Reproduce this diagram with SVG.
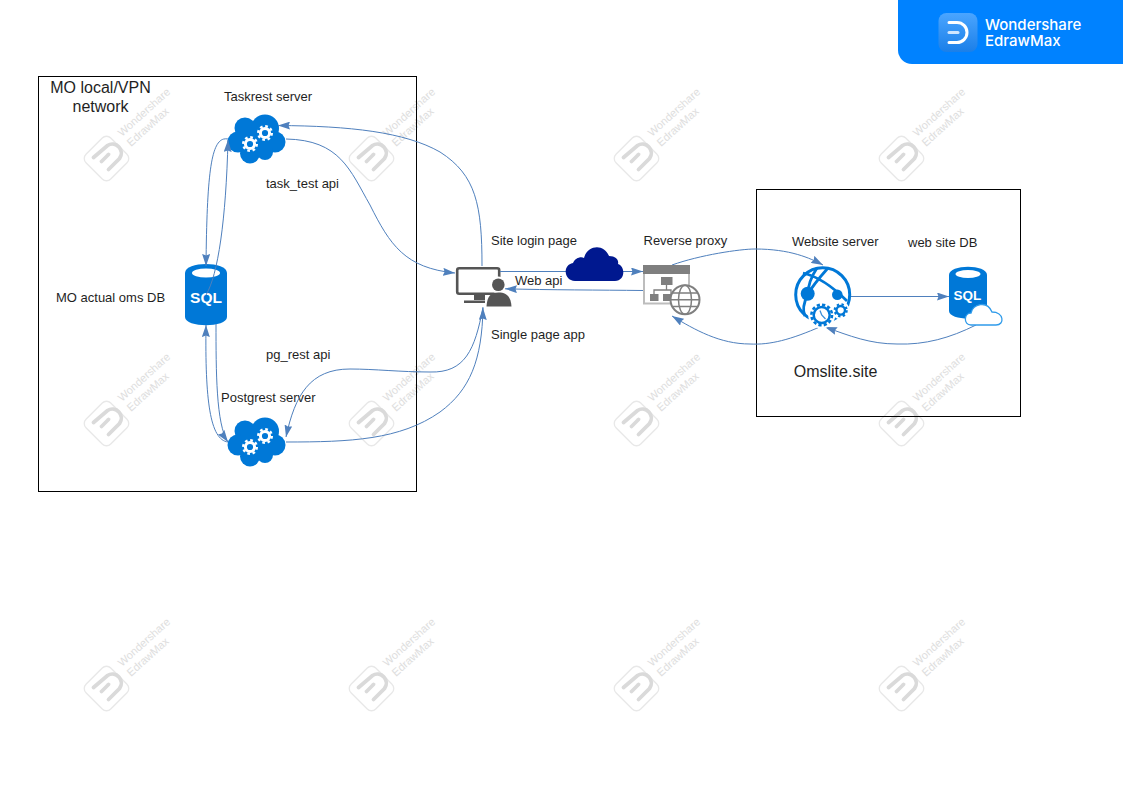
<svg xmlns="http://www.w3.org/2000/svg" width="1123" height="794" viewBox="0 0 1123 794">
<style>
text{font-family:"Liberation Sans",Arial,sans-serif;fill:#1f1f1f}
.l{font-size:13px}
.t{font-size:16px}
.box{fill:none;stroke:#000;stroke-width:1}
.c{fill:none;stroke:#4f80bd;stroke-width:1;marker-end:url(#a)}
.wm{font-size:11px;fill:#dedede}
.sql{font-weight:bold;fill:#fff}
.brand{font-family:Inter,"Liberation Sans",sans-serif;font-size:15px;font-weight:500;fill:#fff}
</style>
<defs>
<marker id="a" viewBox="0 0 12 8" refX="12" refY="4" markerWidth="12" markerHeight="8" markerUnits="userSpaceOnUse" orient="auto"><path d="M0,0L12,4L0,8L1.500,4Z" fill="#4f80bd"/></marker>
<linearGradient id="lg" x1="0" y1="0" x2="0" y2="1"><stop offset="0" stop-color="#4aa5ff"/><stop offset="1" stop-color="#1b7fe8"/></linearGradient>
<g id="gw"><circle r="4.600" fill="none" stroke="#fff" stroke-width="3"/><circle r="6.800" fill="none" stroke="#fff" stroke-width="2.400" stroke-dasharray="2.670 2.670"/></g>
<g id="gb"><circle r="4.300" fill="none" stroke="#0078d7" stroke-width="2.400"/><circle r="6" fill="none" stroke="#0078d7" stroke-width="2.200" stroke-dasharray="2.360 2.360"/></g>
<g id="cg">
<g fill="#0078d7"><circle cx="18" cy="14" r="10.500"/><circle cx="38" cy="14.500" r="14"/><circle cx="48" cy="28" r="10.500"/><circle cx="11" cy="28" r="10.500"/><circle cx="23" cy="39.500" r="10"/><circle cx="38" cy="38" r="8"/><rect x="15" y="14" width="30" height="26"/></g>
<use href="#gw" x="23" y="30"/><use href="#gw" x="38" y="19"/>
</g>
<g id="wi">
<rect x="-17.500" y="-17.500" width="35" height="35" rx="6" transform="rotate(-45)" fill="#fff" stroke="#e8e8e8" stroke-width="1.300"/>
<path d="M-13,-1L1,-13A9,9 0 0 1 13,0L2,11" fill="none" stroke="#dadada" stroke-width="3.800" stroke-linecap="round"/>
<path d="M-5,3L2,-4" fill="none" stroke="#dadada" stroke-width="3.800" stroke-linecap="round"/>
</g>
</defs>
<rect width="1123" height="794" fill="#fff"/>

<g id="watermarks">
<g transform="translate(0,0)"><use href="#wi" x="106.500" y="158.500"/><text class="wm" transform="translate(122,137) rotate(-42)">Wondershare</text><text class="wm" transform="translate(131,147) rotate(-42)">EdrawMax</text></g>
<g transform="translate(265,0)"><use href="#wi" x="106.500" y="158.500"/><text class="wm" transform="translate(122,137) rotate(-42)">Wondershare</text><text class="wm" transform="translate(131,147) rotate(-42)">EdrawMax</text></g>
<g transform="translate(530,0)"><use href="#wi" x="106.500" y="158.500"/><text class="wm" transform="translate(122,137) rotate(-42)">Wondershare</text><text class="wm" transform="translate(131,147) rotate(-42)">EdrawMax</text></g>
<g transform="translate(795,0)"><use href="#wi" x="106.500" y="158.500"/><text class="wm" transform="translate(122,137) rotate(-42)">Wondershare</text><text class="wm" transform="translate(131,147) rotate(-42)">EdrawMax</text></g>
<g transform="translate(0,265)"><use href="#wi" x="106.500" y="158.500"/><text class="wm" transform="translate(122,137) rotate(-42)">Wondershare</text><text class="wm" transform="translate(131,147) rotate(-42)">EdrawMax</text></g>
<g transform="translate(265,265)"><use href="#wi" x="106.500" y="158.500"/><text class="wm" transform="translate(122,137) rotate(-42)">Wondershare</text><text class="wm" transform="translate(131,147) rotate(-42)">EdrawMax</text></g>
<g transform="translate(530,265)"><use href="#wi" x="106.500" y="158.500"/><text class="wm" transform="translate(122,137) rotate(-42)">Wondershare</text><text class="wm" transform="translate(131,147) rotate(-42)">EdrawMax</text></g>
<g transform="translate(795,265)"><use href="#wi" x="106.500" y="158.500"/><text class="wm" transform="translate(122,137) rotate(-42)">Wondershare</text><text class="wm" transform="translate(131,147) rotate(-42)">EdrawMax</text></g>
<g transform="translate(0,530)"><use href="#wi" x="106.500" y="158.500"/><text class="wm" transform="translate(122,137) rotate(-42)">Wondershare</text><text class="wm" transform="translate(131,147) rotate(-42)">EdrawMax</text></g>
<g transform="translate(265,530)"><use href="#wi" x="106.500" y="158.500"/><text class="wm" transform="translate(122,137) rotate(-42)">Wondershare</text><text class="wm" transform="translate(131,147) rotate(-42)">EdrawMax</text></g>
<g transform="translate(530,530)"><use href="#wi" x="106.500" y="158.500"/><text class="wm" transform="translate(122,137) rotate(-42)">Wondershare</text><text class="wm" transform="translate(131,147) rotate(-42)">EdrawMax</text></g>
<g transform="translate(795,530)"><use href="#wi" x="106.500" y="158.500"/><text class="wm" transform="translate(122,137) rotate(-42)">Wondershare</text><text class="wm" transform="translate(131,147) rotate(-42)">EdrawMax</text></g>
</g>

<g id="brand">
<path d="M898,0H1123V64H912A14,14 0 0 1 898,50Z" fill="#0082ff"/>
<rect x="938.500" y="13" width="39" height="39" rx="8" fill="url(#lg)"/>
<path d="M949,22.500H957A10,10 0 0 1 957,42.500H949" fill="none" stroke="#fff" stroke-width="3" stroke-linecap="round"/>
<path d="M949,32.500H958" fill="none" stroke="#cfe6ff" stroke-width="3" stroke-linecap="round"/>
<text class="brand"><tspan x="985" y="29.500">Wondershare</tspan><tspan x="985" y="45.500">EdrawMax</tspan></text>
</g>

<g id="network-box"><rect class="box" x="38.500" y="76.500" width="378" height="415"/>
<text class="t" x="100.500" y="93" text-anchor="middle">MO local/VPN</text>
<text class="t" x="100.500" y="112" text-anchor="middle">network</text></g>
<g id="omslite-box"><rect class="box" x="756.500" y="189.500" width="264" height="227"/>
<text class="t" x="835.500" y="377" text-anchor="middle">Omslite.site</text></g>

<g id="taskrest-server"><use href="#cg" x="227" y="114"/><text class="l" x="224" y="101">Taskrest server</text></g>
<g id="postgrest-server"><use href="#cg" x="227" y="417"/><text class="l" x="221" y="402">Postgrest server</text></g>
<g id="oms-db">
<path d="M185,273C185,261 227,261 227,273V317C227,328 185,328 185,317Z" fill="#0078d7"/>
<ellipse cx="206" cy="273" rx="14" ry="4.500" fill="#fff"/>
<text class="sql" x="206" y="303" font-size="15.500" text-anchor="middle">SQL</text>
<text class="l" x="56" y="302">MO actual oms DB</text>
</g>

<g id="user-pc">
<rect x="457.200" y="268.200" width="42" height="25.500" rx="2" fill="#fff" stroke="#555" stroke-width="2.600"/>
<path d="M474,295H485V300H474ZM464,300.500H485V303H464Z" fill="#555"/>
<circle cx="498.300" cy="285" r="8.500" fill="#fff"/>
<path d="M485,307V295H513V307Z" fill="#fff"/>
<circle cx="498.300" cy="284.700" r="6.300" fill="#555"/>
<path d="M486.500,306.500C487,296 491,292.500 498.500,292.500C506,292.500 511,296 511.500,306.500Z" fill="#555"/>
</g>

<g id="connectors">
<path class="c" d="M482,266C482,205 476,175 440,152C405,132 350,126 278,125.500"/>
<path class="c" d="M286,139C340,140 350,170 370,205C390,245 405,268 455,273"/>
<path class="c" d="M206,295C218,275 226,220 228,140"/>
<path class="c" d="M228,139C212,136 207,165 206,266"/>
<path class="c" d="M216,324C216,370 216,425 228,442"/>
<path class="c" d="M228,442C210,440 205,400 206,325"/>
<path class="c" d="M483,307C475,350 465,373 430,372C400,372 375,369 350,369C310,369 295,395 286,437"/>
<path class="c" d="M286,442C350,442 400,440 440,412C470,390 482,360 483,308"/>
<path class="c" d="M500,271.500H643"/>
<path class="c" d="M643,290.500C600,290 550,290 505,288.800"/>
<path class="c" d="M672,265C700,255 740,249 755,249C790,249 810,258 823,265"/>
<path class="c" d="M822,326C790,340 770,345 750,344C720,344 695,330 672,316"/>
<path class="c" d="M851,296.500H949"/>
<path class="c" d="M976,325C950,338 925,345 897,344C870,344 850,336 825,327"/>
</g>

<g id="internet-cloud">
<path d="M575,281C564,281 562,265 573,263C575,258 581,256 584,258C587,245 604,243 609,256C616,256 619,260 618,264C626,267 625,281 615,281Z" fill="#00188f"/>
</g>

<g id="reverse-proxy">
<rect x="644" y="266" width="45" height="37.500" fill="#fff" stroke="#bdbdbd" stroke-width="2"/>
<rect x="643" y="265" width="47" height="9" fill="#7f7f7f"/>
<path d="M666.500,285V290M654,294V290H671V294" fill="none" stroke="#7f7f7f" stroke-width="1.300"/>
<rect x="661" y="277" width="11.500" height="8" fill="#7f7f7f"/>
<rect x="650" y="294" width="8.500" height="7" fill="#7f7f7f"/>
<rect x="663" y="294" width="8" height="7" fill="#7f7f7f"/>
<circle cx="685" cy="299.700" r="14.500" fill="#fff" stroke="#7f7f7f" stroke-width="2"/>
<ellipse cx="685" cy="299.700" rx="6.500" ry="14.500" fill="none" stroke="#7f7f7f" stroke-width="1.500"/>
<path d="M671,299.700H699.500M673,293H697M673,306.500H697" fill="none" stroke="#7f7f7f" stroke-width="1.500"/>
</g>

<g id="website-server">
<circle cx="822.700" cy="294.700" r="27" fill="#fff" stroke="#0078d7" stroke-width="3"/>
<path d="M817,268C811,277 808,286 808,294M828,268C820,277 813,285 808,294M803,273C816,276 832,286 847,301M808,294C804,302 802,310 805,316" fill="none" stroke="#0078d7" stroke-width="2.800"/>
<circle cx="807.700" cy="293.700" r="7" fill="#0078d7"/>
<circle cx="837.300" cy="294.700" r="5.300" fill="#0078d7"/>
<circle cx="821.700" cy="315" r="13.500" fill="#fff"/>
<circle cx="840.700" cy="310.300" r="9" fill="#fff"/>
<use href="#gb" x="840.700" y="310.300"/>
<circle cx="821.700" cy="315" r="8" fill="#fff" stroke="#0078d7" stroke-width="2.500"/>
<circle cx="821.700" cy="315" r="10.300" fill="none" stroke="#0078d7" stroke-width="2.600" stroke-dasharray="3.200 2.200"/>
<path d="M820,310.500L821.700,315L825.500,319" fill="none" stroke="#3d8fd8" stroke-width="1.300"/>
</g>

<g id="website-db">
<path d="M949,275C949,264 987,264 987,275V311C987,321 949,321 949,311Z" fill="#0078d7"/>
<ellipse cx="968" cy="274" rx="12.500" ry="4" fill="#fff"/>
<text class="sql" x="967.500" y="300" font-size="13.500" text-anchor="middle">SQL</text>
<path d="M971,325C963,325 964,313 971,313C973,304 987,300 992,312C1004,312 1005,325 996,325Z" fill="#fff" stroke="#2f9bea" stroke-width="1.300"/>
</g>

<g id="labels">
<text class="l" x="266" y="188">task_test api</text>
<text class="l" x="266" y="359">pg_rest api</text>
<text class="l" x="491" y="245">Site login page</text>
<text class="l" x="515" y="285">Web api</text>
<text class="l" x="491" y="339">Single page app</text>
<text class="l" x="643.500" y="245">Reverse proxy</text>
<text class="l" x="792" y="246">Website server</text>
<text class="l" x="908" y="247">web site DB</text>
</g>
</svg>
